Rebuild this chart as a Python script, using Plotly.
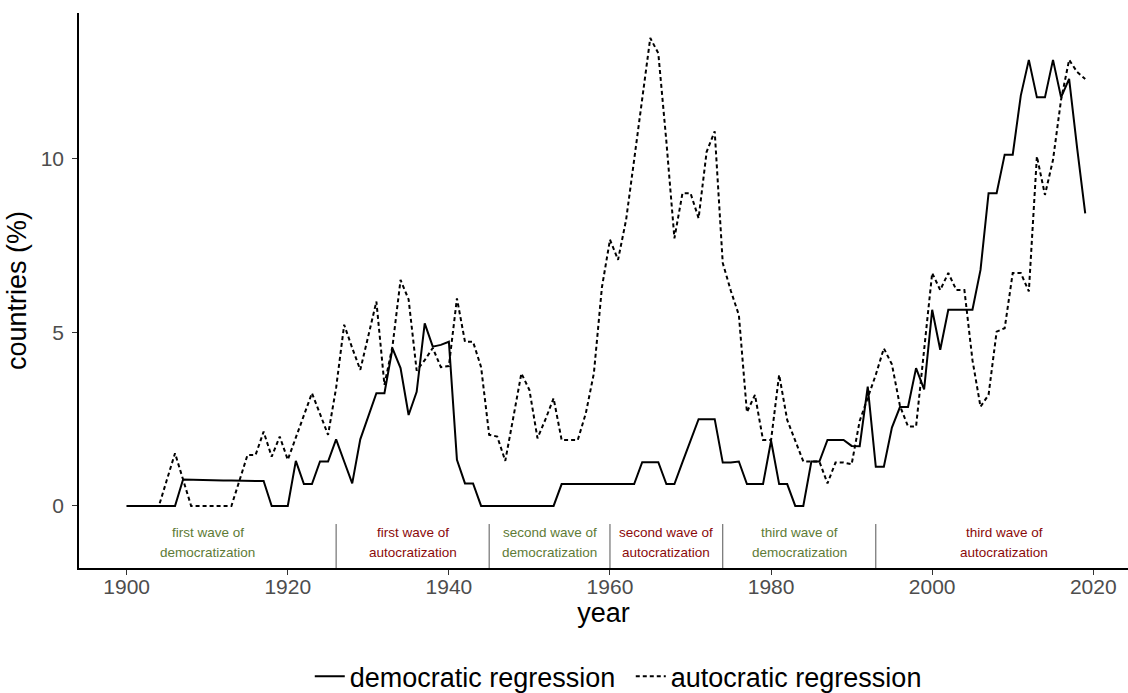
import plotly.graph_objects as go

# Share of countries (%) in an episode of regression, per year
years = list(range(1900, 2020))

democratic_regression = [
    0, 0, 0, 0, 0, 0, 0,                                              # 1900-1906
    0.76, 0.75, 0.74, 0.74, 0.74, 0.73, 0.73, 0.72, 0.72, 0.72, 0.72,  # 1907-1917
    0, 0, 0,                                                          # 1918-1920
    1.3, 0.63, 0.63, 1.28, 1.28, 1.92, 1.28, 0.65, 1.92, 2.6,         # 1921-1930
    3.25, 3.25, 4.54, 3.97, 2.62, 3.29, 5.26, 4.59, 4.64, 4.73,       # 1931-1940
    1.33, 0.65, 0.65,                                                 # 1941-1943
    0, 0, 0, 0, 0, 0, 0, 0, 0, 0,                                     # 1944-1953
    0.63, 0.63, 0.63, 0.63, 0.63, 0.63, 0.63, 0.63, 0.63, 0.63,       # 1954-1963
    1.26, 1.26, 1.26, 0.63, 0.63, 1.26, 1.9,                          # 1964-1970
    2.5, 2.5, 2.5, 1.25, 1.25, 1.28, 0.63, 0.63, 0.63, 1.88,          # 1971-1980
    0.63, 0.63, 0, 0, 1.28, 1.28, 1.9, 1.9, 1.9, 1.73,                # 1981-1990
    1.72, 3.44, 1.13, 1.13, 2.26, 2.85, 2.85, 3.97, 3.36, 5.65,       # 1991-2000
    4.5, 5.65, 5.65, 5.65, 5.65, 6.8, 9.01, 9.01, 10.12, 10.12,       # 2001-2010
    11.82, 12.85, 11.77, 11.77, 12.85, 11.77, 12.3, 10.3, 8.43,       # 2011-2019
]

autocratic_regression = [
    0, 0, 0, 0, 0, 0.76, 1.52, 0.76, 0, 0,                            # 1900-1909
    0, 0, 0, 0, 0.73, 1.47, 1.47, 2.14, 1.42, 2.0,                    # 1910-1919
    1.33, 1.95, 2.6, 3.25, 2.65, 2.05, 3.4, 5.22, 4.55, 3.92,         # 1920-1929
    4.9, 5.89, 3.49, 4.6, 6.51, 5.95, 3.9, 4.2, 4.55, 4.0,            # 1930-1939
    4.03, 5.98, 4.73, 4.73, 4.0, 2.05, 2.0, 1.3, 2.55, 3.82,          # 1940-1949
    3.34, 1.95, 2.5, 3.1, 1.9, 1.9, 1.9, 2.67, 3.82, 6.3,             # 1950-1959
    7.67, 7.09, 8.24, 9.97, 11.7, 13.48, 13.04, 10.5, 7.71, 9.01,     # 1960-1969
    9.01, 8.29, 10.2, 10.79, 7.0, 6.2, 5.5, 2.7, 3.2, 1.9,            # 1970-1979
    1.9, 3.78, 2.48, 1.85, 1.28, 1.28, 1.28, 0.65, 1.25, 1.25,        # 1980-1989
    1.2, 2.45, 3.12, 3.78, 4.54, 4.08, 2.88, 2.29, 2.29, 4.6,         # 1990-1999
    6.71, 6.22, 6.71, 6.22, 6.22, 4.2, 2.86, 3.2, 5.02, 5.12,         # 2000-2009
    6.71, 6.71, 6.18, 10.07, 8.96, 9.97, 11.7, 12.85, 12.5, 12.3,     # 2010-2019
]

assert len(democratic_regression) == len(years)
assert len(autocratic_regression) == len(years)

# Waves of democratization / autocratization along the time axis
wave_breaks = [1926, 1945, 1960, 1974, 1993]
wave_names = [
    ("first wave of", "democratization"),
    ("first wave of", "autocratization"),
    ("second wave of", "democratization"),
    ("second wave of", "autocratization"),
    ("third wave of", "democratization"),
    ("third wave of", "autocratization"),
]

x_ticks = [1900, 1920, 1940, 1960, 1980, 2000, 2020]
y_ticks = [0, 5, 10]

# panel limits
x_lo, x_hi_full, x_hi_view = 1894.08, 2024.95, 2024.31
y_lo, y_hi = -1.787, 14.2

FONT = "Liberation Sans, Arial, sans-serif"
DEMO_COL = "#5E7B36"
AUTO_COL = "#8B0A0A"

fig = go.Figure()
fig.add_trace(go.Scatter(
    x=years, y=democratic_regression, mode="lines",
    name="democratic regression",
    line=dict(color="black", width=2),
))
fig.add_trace(go.Scatter(
    x=years, y=autocratic_regression, mode="lines",
    name="autocratic regression",
    line=dict(color="black", width=2, dash="4px,3px"),
))

# separators between waves
for b in wave_breaks:
    fig.add_shape(type="line", xref="x", yref="y",
                  x0=b, x1=b, y0=-0.52, y1=y_lo,
                  line=dict(color="#555555", width=1))

# wave labels centred in each segment
edges = [x_lo] + wave_breaks + [x_hi_full]
for i, (l1, l2) in enumerate(wave_names):
    cx = (edges[i] + edges[i + 1]) / 2
    col = DEMO_COL if l2.startswith("democ") else AUTO_COL
    for txt, yy in ((l1, -0.77), (l2, -1.33)):
        fig.add_annotation(x=cx, y=yy, xref="x", yref="y", text=txt,
                           showarrow=False, xanchor="center", yanchor="middle",
                           font=dict(family=FONT, size=13.5, color=col))

fig.update_layout(
    width=1128, height=693,
    margin=dict(l=79, r=0, t=13, b=125, autoexpand=False),
    paper_bgcolor="white", plot_bgcolor="white",
    font=dict(family=FONT, color="black"),
    showlegend=True,
    legend=dict(orientation="h", x=0.526, xanchor="center",
                y=-0.196, yanchor="middle",
                entrywidth=276,
                font=dict(family=FONT, size=27, color="black"),
                borderwidth=0, tracegroupgap=0,
                bgcolor="rgba(0,0,0,0)"),
)

fig.update_xaxes(
    range=[x_lo, x_hi_view], tickvals=x_ticks,
    showgrid=False, zeroline=False,
    showline=True, linecolor="black", linewidth=1.5,
    ticks="outside", ticklen=5, tickwidth=1.2, tickcolor="#333333",
    ticklabelstandoff=-6,
    tickfont=dict(family=FONT, size=21, color="#4D4D4D"),
    title=dict(text="year", font=dict(family=FONT, size=27, color="black"),
               standoff=2),
)
fig.update_yaxes(
    range=[y_lo, y_hi], tickvals=y_ticks,
    showgrid=False, zeroline=False,
    showline=True, linecolor="black", linewidth=1.5,
    ticks="outside", ticklen=5, tickwidth=1.2, tickcolor="#333333",
    ticklabelstandoff=4,
    tickfont=dict(family=FONT, size=21, color="#4D4D4D"),
    title=dict(text="countries (%)", font=dict(family=FONT, size=27, color="black"),
               standoff=6),
)

fig.write_html("out.html")
